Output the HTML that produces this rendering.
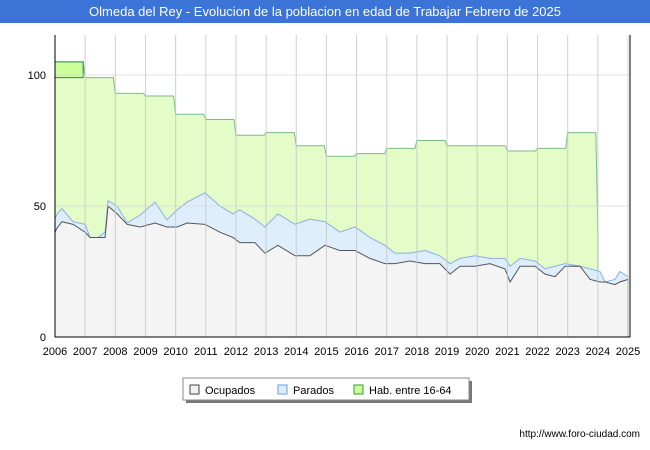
<!DOCTYPE html>
<html><head><meta charset="utf-8"><style>
body{margin:0;width:650px;height:450px;background:#fff;font-family:"Liberation Sans",sans-serif;overflow:hidden}
</style></head><body>
<svg width="650" height="450" style="position:absolute;left:0;top:0">
<rect x="0" y="0" width="650" height="23" fill="#3b73d6"/>
<text x="325" y="16" text-anchor="middle" font-size="13" fill="#fff">Olmeda del Rey - Evolucion de la poblacion en edad de Trabajar Febrero de 2025</text>
<g id="plot"></g>
<g>
<rect x="186" y="381" width="286" height="22" fill="#777"/>
<rect x="183" y="378" width="286" height="22" fill="#fff" stroke="#888"/>
<rect x="190" y="385" width="9" height="9" fill="#f2f2f2" stroke="#444"/>
<text x="205" y="394" font-size="11">Ocupados</text>
<rect x="278" y="385" width="9" height="9" fill="#ddeeff" stroke="#6b9be0"/>
<text x="293" y="394" font-size="11">Parados</text>
<rect x="354" y="385" width="9" height="9" fill="#ccff99" stroke="#3a9a3a"/>
<text x="369" y="394" font-size="11">Hab. entre 16-64</text>
</g>
<text x="640" y="437" text-anchor="end" font-size="10">http://www.foro-ciudad.com</text>
</svg>
<script>
const years=[2006,2007,2008,2009,2010,2011,2012,2013,2014,2015,2016,2017,2018,2019,2020,2021,2022,2023];
const habValues=[105,99,93,92,85,83,77,78,73,69,70,72,75,73,73,71,72,78];
const sampleDates=[2006.0,2006.07,2006.23,2006.6,2007.0,2007.16,2007.43,2007.66,2007.76,2008.06,2008.39,2008.82,2009.32,2009.71,2010.05,2010.38,2010.97,2011.47,2011.9,2012.13,2012.63,2012.96,2013.39,2013.96,2014.45,2014.95,2015.45,2015.95,2016.44,2016.94,2017.27,2017.77,2018.27,2018.76,2019.1,2019.43,2019.93,2020.42,2020.92,2021.09,2021.42,2021.92,2022.25,2022.58,2022.91,2023.41,2023.74,2024.07,2024.24,2024.57,2024.73,2025.0];
const paradosValues=[45,47,49,44,43,38,38,40,52,50,43.5,46.5,51.5,44.7,48.5,51.5,55,50,47,48.5,45,42,47,43,45,44,40,42,38,35,32,32,33,31,28,30,31,30,30,27,30,29,26,27,28,27,26,25,21,22,25,23];
const ocupadosValues=[40,41.6,44,43,40,38,38,38,50,47,43,42,43.5,42,42,43.5,43,40,38,36,36,32,35,31,31,35,33,33,30,28,28,29,28,28,24,27,27,28,26,21,27,27,24,23,27,27,22,21,21,20,21,22];
const yTicks=[0,50,100];
const xTicks=[2006,2007,2008,2009,2010,2011,2012,2013,2014,2015,2016,2017,2018,2019,2020,2021,2022,2023,2024,2025];
const X0=55,X1=628,Y0=337,Y100=75;
const xs=t=>X0+(t-2006)*(X1-X0)/19;
const ys=v=>Y0-v*(Y0-Y100)/100;
const NS='http://www.w3.org/2000/svg';
const g=document.getElementById('plot');
function el(tag,attrs,parent){const e=document.createElementNS(NS,tag);for(const k in attrs)e.setAttribute(k,attrs[k]);(parent||g).appendChild(e);return e;}
// hab step area
let hp=`M${xs(years[0])},${ys(0)}`;
years.forEach((y,i)=>{hp+=` L${xs(y)},${ys(habValues[i])} L${xs(y+1)-2},${ys(habValues[i])}`;});
hp+=` L${xs(years[years.length-1]+1)},${ys(40)} L${xs(years[years.length-1]+1)},${ys(0)} Z`;
const hab=el('path',{d:hp,fill:'#e3fcc8',stroke:'#7dbb8f','stroke-width':1});


const first=el('rect',{x:xs(years[0]),y:ys(habValues[0]),width:xs(years[1])-xs(years[0])-2,height:ys(habValues[1])-ys(habValues[0]),fill:'#ccff99',stroke:'#2a8a4a'});


function linePts(vals){return sampleDates.map((d,i)=>`${xs(d)},${ys(vals[i])}`).join(' L');}
const pa=el('path',{d:`M${linePts(paradosValues)} L${xs(2025)},${Y0} L${X0},${Y0} Z`,fill:'#deeefc',stroke:'#8ab0e8'});


const oc=el('path',{d:`M${linePts(ocupadosValues)} L${xs(2025)},${Y0} L${X0},${Y0} Z`,fill:'#f4f4f4',stroke:'#555'});


// grid on top
xTicks.forEach(t=>{
const l=el('line',{x1:xs(t),x2:xs(t),y1:35,y2:Y0,stroke:'#c4c4c4','stroke-opacity':0.8});


const tx=el('text',{x:xs(t),y:355,'text-anchor':'middle','font-size':11});
tx.textContent=t;


});
yTicks.forEach(v=>{
const l=el('line',{x1:X0,x2:630,y1:ys(v),y2:ys(v),stroke:'#d8d8d8','stroke-opacity':0.8});


const tx=el('text',{x:46,y:ys(v)+4,'text-anchor':'end','font-size':11});
tx.textContent=v;


});
const ax=el('line',{x1:X0,x2:X0,y1:35,y2:Y0,stroke:'#000'});


const ax2=el('line',{x1:X0,x2:630,y1:Y0,y2:Y0,stroke:'#000'});


const rb=el('line',{x1:630,x2:630,y1:35,y2:Y0,stroke:'#000'});


</script>
</body></html>
